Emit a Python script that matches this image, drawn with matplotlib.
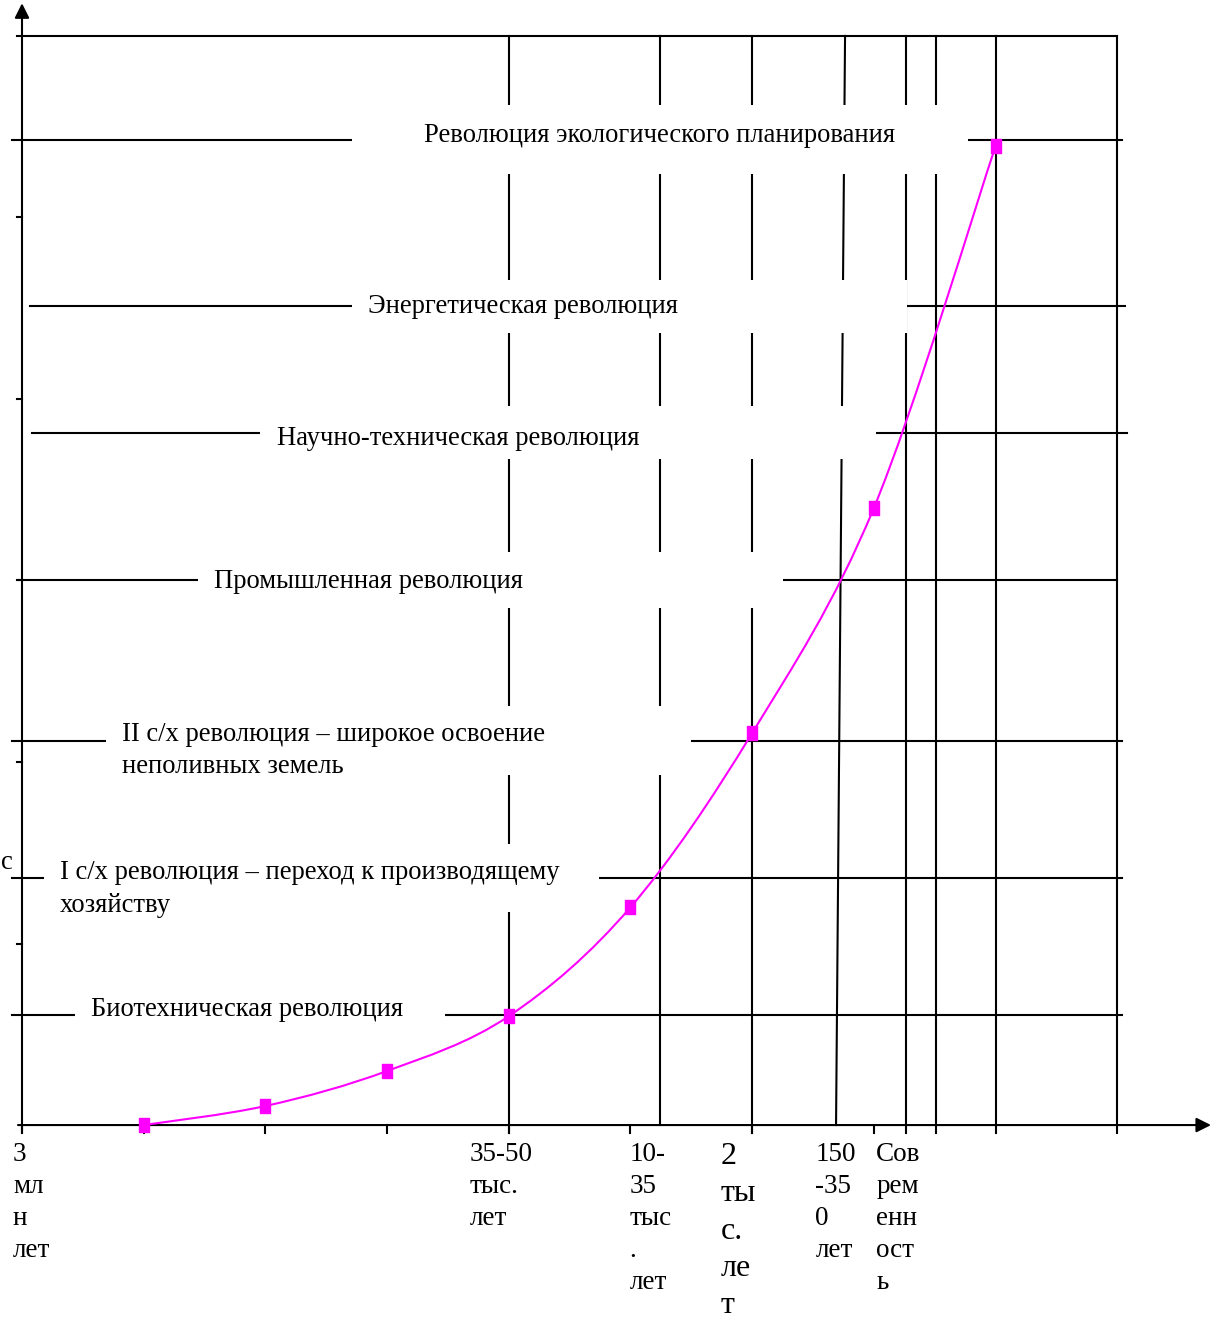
import numpy as np
import matplotlib
matplotlib.use("Agg")
import matplotlib.pyplot as plt
from matplotlib.path import Path
from matplotlib.patches import PathPatch, Rectangle

plt.rcParams['font.family'] = ['Liberation Serif', 'DejaVu Serif']

# curve of progress (x = epoch index, y = level)
curve_x = [1, 2, 3, 4, 5, 6, 7, 8]
curve_y = [0.0, 0.105, 0.298, 0.60, 1.20, 2.16, 3.40, 5.394]

# revolutions: level, label, text left x, box left/right, box half height
rev_labels = [
    "Революция экологического планирования",
    "Энергетическая революция",
    "Научно-техническая революция",
    "Промышленная революция",
    "II с/х революция – широкое освоение\nнеполивных земель",
    "I с/х революция – переход к производящему\nхозяйству",
    "Биотехническая революция",
]
rev_level = [5.427, 4.512, 3.813, 3.003, 2.116, 1.361, 0.606]
rev_text_x = [3.303, 2.843, 2.095, 1.578, 0.822, 0.312, 0.567]
rev_text_dy = [0.027, 0.0, -0.028, -0.006, -0.052, -0.06, 0.033]
rev_box_l = [2.712, 2.712, 1.956, 1.446, 0.690, 0.181, 0.435]
rev_box_r = [7.773, 7.272, 7.017, 6.253, 5.497, 4.741, 3.476]
rev_box_h = [0.19, 0.146, 0.146, 0.152, 0.19, 0.187, 0.15]
rev_line_l = [-0.082, 0.066, 0.082, -0.033, -0.082, -0.082, -0.082]
rev_line_r = [9.04, 9.06, 9.08, 9.0, 9.04, 9.04, 9.04]

# vertical epoch lines
epoch_lines = [4.0, 6.0, 7.264, 7.51, 8.0, 9.0]
epoch_short = 5.24          # ends at the axis
slant_top, slant_bottom = 6.763, 6.689

# x-axis labels
x_labels = ["3\nмл\nн\nлет", "35-50\nтыс.\nлет", "10-\n35\nтыс\n.\nлет",
            "2\nты\nс.\nле\nт", "150\n-35\n0\nлет", "Сов\nрем\nенн\nост\nь"]
x_label_pos = [-0.074, 3.68, 4.99, 5.74, 6.52, 7.02]
x_label_size = [19.5, 19.5, 19.5, 23, 19.5, 19.5]
x_label_ls = [1.37, 1.37, 1.37, 1.38, 1.37, 1.37]

top_level = 6.0
y_ticks = [1, 2, 3, 4, 5]
x_ticks = [0, 1, 2, 3, 4, 5, 6, 7]

fig = plt.figure(figsize=(12.11, 13.26), dpi=100)
ax = fig.add_axes([0, 0, 1, 1])
ax.set_xlim(-0.1808, 9.770)
ax.set_ylim(-1.107, 6.198)
ax.axis('off')

lw = 1.5
tick_y = 0.044
tick_x = 0.041

# axes with arrows
ax.annotate('', xy=(0, 6.18), xytext=(0, -0.044),
            arrowprops=dict(arrowstyle='-|>', lw=lw, color='k', mutation_scale=22,
                            shrinkA=0, shrinkB=0))
ax.annotate('', xy=(9.77, 0), xytext=(-0.033, 0),
            arrowprops=dict(arrowstyle='-|>', lw=lw, color='k', mutation_scale=22,
                            shrinkA=0, shrinkB=0))

# frame top and grid
ax.plot([-0.041, 9.0], [top_level, top_level], color='k', lw=lw, zorder=2)
for xv in epoch_lines:
    ax.plot([xv, xv], [-tick_y, top_level], color='k', lw=lw, zorder=2)
ax.plot([epoch_short, epoch_short], [0, top_level], color='k', lw=lw, zorder=2)
ax.plot([slant_bottom, slant_top], [0, top_level], color='k', lw=lw, zorder=2)
for xv in x_ticks:
    ax.plot([xv, xv], [0, -tick_y], color='k', lw=lw, zorder=2)
for yv in y_ticks:
    ax.plot([-tick_x, 0], [yv, yv], color='k', lw=lw, zorder=2)

# revolution levels with white label boxes
for i, lab in enumerate(rev_labels):
    lev = rev_level[i]
    ax.plot([rev_line_l[i], rev_line_r[i]], [lev, lev], color='k', lw=lw, zorder=2)
    ax.add_patch(Rectangle((rev_box_l[i], lev - rev_box_h[i]),
                           rev_box_r[i] - rev_box_l[i], 2 * rev_box_h[i],
                           facecolor='white', edgecolor='none', zorder=3))
    ax.text(rev_text_x[i], lev + rev_text_dy[i], lab, fontsize=19.2, ha='left',
            va='center', linespacing=1.4, zorder=5)

# smooth curve through the points
pts = np.column_stack([curve_x, curve_y])
verts = [pts[0]]
codes = [Path.MOVETO]
for i in range(len(pts) - 1):
    p0 = pts[i - 1] if i > 0 else pts[i]
    p1, p2 = pts[i], pts[i + 1]
    p3 = pts[i + 2] if i + 2 < len(pts) else pts[i + 1]
    verts += [p1 + (p2 - p0) / 6, p2 - (p3 - p1) / 6, p2]
    codes += [Path.CURVE4] * 3
ax.add_patch(PathPatch(Path(verts, codes), facecolor='none', edgecolor='#ff00ff',
                       lw=1.5, zorder=6))
rect = [(-0.36, -0.5), (0.36, -0.5), (0.36, 0.5), (-0.36, 0.5), (-0.36, -0.5)]
ax.plot(curve_x, curve_y, ls='none', marker=rect, ms=10.5, color='#ff00ff', zorder=7)

# axis labels
for lab, xp, fs, ls in zip(x_labels, x_label_pos, x_label_size, x_label_ls):
    ax.text(xp, -0.093, lab, fontsize=fs, ha='left', va='top', linespacing=ls)
ax.text(-0.176, 1.449, "с", fontsize=19.2, ha='left', va='center')

fig.savefig("out.png", dpi=100)
